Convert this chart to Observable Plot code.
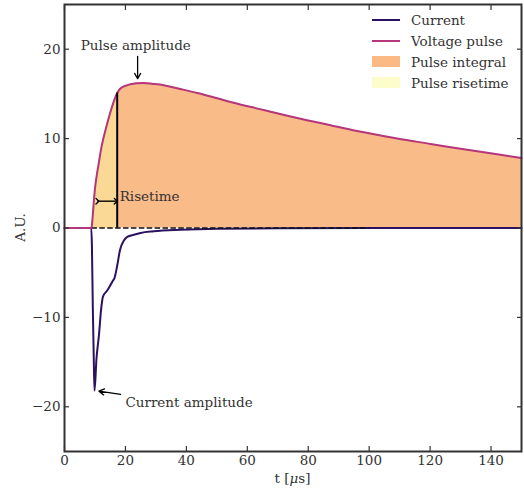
<!DOCTYPE html>
<html>
<head>
<meta charset="utf-8">
<script src="https://cdn.jsdelivr.net/npm/d3@7"></script>
<script src="https://cdn.jsdelivr.net/npm/@observablehq/plot@0.6"></script>
<style>
  html, body { margin: 0; padding: 0; background: #fff; }
  #wrap { position: relative; width: 524px; height: 489px; font-family: "DejaVu Serif", serif; }
  #legend { position: absolute; left: 370px; top: 10px; font-size: 13.5px; color: #333; }
  .item { position: absolute; white-space: nowrap; height: 20px; }
  .item .lab { position: absolute; left: 41px; top: 0; line-height: 20px; }
  .item .sw { position: absolute; left: 2px; }
</style>
</head>
<body>
<div id="wrap"></div>
<script>
// ---- data ----
const tVolt = [0, 8.8, 9.0, 9.2, 9.43, 9.97, 10.5, 11.07, 12.16, 13.8, 15.45, 17.3, 18.2, 19.2, 20.4, 22, 23.7, 26, 29, 32.6, 38, 43.6, 54.5, 65.4, 76.4, 87.3, 98.3, 109.2, 120.2, 131.1, 142, 150];
const voltage = [0, 0, 0.3, 1.1, 2.1, 4.3, 5.7, 6.9, 9.1, 11.4, 13.4, 15.1, 15.55, 15.8, 15.95, 16.1, 16.2, 16.22, 16.12, 15.97, 15.55, 15.1, 14.1, 13.2, 12.3, 11.5, 10.7, 10.0, 9.4, 8.8, 8.25, 7.83];
const tCurr = [0, 8.8, 9.0, 9.3, 9.6, 9.85, 10.5, 11.3, 12.05, 12.6, 14.0, 15.7, 16.5, 17.3, 18.2, 19.5, 20.6, 22.8, 25, 29.3, 38, 50, 70, 100, 150];
const current = [0, 0, -2, -9, -14.5, -18.2, -14.6, -12.0, -9.0, -7.7, -7.0, -6.0, -5.5, -4.2, -2.5, -1.4, -1.0, -0.75, -0.55, -0.37, -0.2, -0.08, -0.03, -0.01, 0];
const riseStart = 9.0, riseEnd = 17.3;
const dashEnd = 100;
const xTicks = [0, 20, 40, 60, 80, 100, 120, 140];
const yTicks = [-20, -10, 0, 10, 20];
const seriesNames = ["Current", "Voltage pulse", "Pulse integral", "Pulse risetime"];
const annTexts = ["Pulse amplitude", "Risetime", "Current amplitude"];
const annT = [5.3, 18.1, 20.0];
const annV = [20.4, 3.55, -19.5];
// arrows: [t1, v1, t2, v2]
const ampArrow = [24, 19.2, 24, 16.7];
const currArrow = [18.4, -18.6, 11.3, -18.25];
const riseArrow = [10.8, 3.0, 16.8, 3.0];

// ---- colours ----
const cCurrent = "#2c1160", cVolt = "#b5367a", cInt = "#f9bb87", cRise = "#f9d995";
const cIntLeg = "#fbb985", cRiseLeg = "#fdfccb";

const V = tVolt.map((t, i) => ({t, v: voltage[i]}));
const C = tCurr.map((t, i) => ({t, v: current[i]}));
const R = V.filter(d => d.t >= riseStart && d.t <= riseEnd);
const riseTop = V.find(d => d.t === riseEnd).v;
const ann = annTexts.map((s, i) => ({s, t: annT[i], v: annV[i]}));

const W = 524, H = 489, mL = 64, mR = 3, mT = 4, mB = 38;

const chart = Plot.plot({
  width: W, height: H,
  marginLeft: mL, marginRight: mR, marginTop: mT, marginBottom: mB,
  style: {fontFamily: "DejaVu Serif, serif", fontSize: "13.5px", color: "#333", background: "#fff"},
  x: {domain: [0, 150]},
  y: {domain: [-25, 25]},
  marks: [
    Plot.areaY(V, {x: "t", y: "v", fill: cInt, curve: "monotone-x"}),
    Plot.areaY(R, {x: "t", y: "v", fill: cRise, curve: "monotone-x"}),
    Plot.line(C, {x: "t", y: "v", stroke: cCurrent, strokeWidth: 2, curve: "monotone-x"}),
    Plot.ruleY([0], {x1: riseStart, x2: dashEnd, stroke: "#111", strokeWidth: 1.6, strokeDasharray: "5.5,2.4"}),
    Plot.line(V, {x: "t", y: "v", stroke: cVolt, strokeWidth: 2, curve: "monotone-x"}),
    Plot.ruleX([riseEnd], {y1: 0, y2: riseTop, stroke: "#000", strokeWidth: 2}),
    Plot.text(ann, {x: "t", y: "v", text: "s", textAnchor: "start", fill: "#333", fontSize: 13.5}),
    Plot.arrow([ampArrow], {x1: d => d[0], y1: d => d[1], x2: d => d[2], y2: d => d[3], stroke: "#000", strokeWidth: 1.3, headLength: 7}),
    Plot.arrow([currArrow], {x1: d => d[0], y1: d => d[1], x2: d => d[2], y2: d => d[3], stroke: "#000", strokeWidth: 1.3, headLength: 7}),
    Plot.link([riseArrow], {x1: d => d[0], y1: d => d[1], x2: d => d[2], y2: d => d[3], stroke: "#000", strokeWidth: 1.4, markerStart: "arrow", markerEnd: "arrow"}),
    Plot.axisX({anchor: "bottom", ticks: xTicks, tickSize: -5, tickPadding: 9, label: null, stroke: "#333", strokeWidth: 1.2}),
    Plot.axisX({anchor: "top", ticks: xTicks, tickSize: -5, tickFormat: () => "", label: null, stroke: "#333", strokeWidth: 1.2}),
    Plot.axisY({anchor: "left", ticks: yTicks, tickSize: -5, tickPadding: 9, label: null, stroke: "#333", strokeWidth: 1.2}),
    Plot.axisY({anchor: "right", ticks: yTicks, tickSize: -5, tickFormat: () => "", label: null, stroke: "#333", strokeWidth: 1.2}),
    Plot.frame({stroke: "#333", strokeWidth: 2})
  ]
});

const wrap = document.getElementById("wrap");
wrap.appendChild(chart);

const svg = d3.select(chart);
// x label with italic mu
const xl = svg.append("text")
  .attr("x", (mL + W - mR) / 2).attr("y", H - 6)
  .attr("text-anchor", "middle")
  .attr("fill", "#333")
  .style("font-family", "DejaVu Serif, serif").style("font-size", "13.5px");
xl.append("tspan").text("t [");
xl.append("tspan").attr("font-style", "italic").text("μ");
xl.append("tspan").text("s]");
// y label
svg.append("text")
  .attr("transform", `translate(25,${(mT + H - mB) / 2}) rotate(-90)`)
  .attr("text-anchor", "middle")
  .attr("fill", "#333")
  .style("font-family", "DejaVu Serif, serif").style("font-size", "13.5px")
  .text("A.U.");

// legend
const legend = document.createElement("div");
legend.id = "legend";
const swatches = [
  {type: "line", color: cCurrent},
  {type: "line", color: cVolt},
  {type: "patch", color: cIntLeg},
  {type: "patch", color: cRiseLeg}
];
seriesNames.forEach((name, i) => {
  const it = document.createElement("div");
  it.className = "item";
  it.style.top = (i * 21) + "px";
  const sw = document.createElement("div");
  sw.className = "sw";
  if (swatches[i].type === "line") {
    sw.style.cssText += `top:9px;width:28px;height:2px;background:${swatches[i].color};`;
  } else {
    sw.style.cssText += `top:4px;width:28px;height:11px;background:${swatches[i].color};`;
  }
  const lab = document.createElement("span");
  lab.className = "lab";
  lab.textContent = name;
  it.appendChild(sw);
  it.appendChild(lab);
  legend.appendChild(it);
});
wrap.appendChild(legend);
</script>
</body>
</html>
